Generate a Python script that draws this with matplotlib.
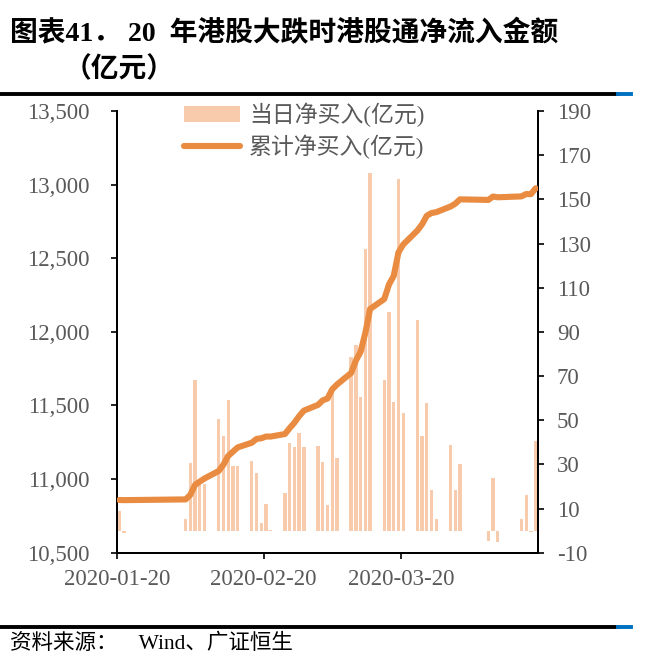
import matplotlib
matplotlib.use("Agg")
import matplotlib.pyplot as plt
from matplotlib.lines import Line2D
from matplotlib.patches import Patch
import pandas as pd

# 港股通交易日
dates = ["2020-01-20", "2020-01-21",
         "2020-02-03", "2020-02-04", "2020-02-05", "2020-02-06", "2020-02-07",
         "2020-02-10", "2020-02-11", "2020-02-12", "2020-02-13", "2020-02-14",
         "2020-02-17", "2020-02-18", "2020-02-19", "2020-02-20", "2020-02-21",
         "2020-02-24", "2020-02-25", "2020-02-26", "2020-02-27", "2020-02-28",
         "2020-03-02", "2020-03-03", "2020-03-04", "2020-03-05", "2020-03-06",
         "2020-03-09", "2020-03-10", "2020-03-11", "2020-03-12", "2020-03-13",
         "2020-03-16", "2020-03-17", "2020-03-18", "2020-03-19", "2020-03-20",
         "2020-03-23", "2020-03-24", "2020-03-25", "2020-03-26", "2020-03-27",
         "2020-03-30", "2020-03-31", "2020-04-01",
         "2020-04-07", "2020-04-08", "2020-04-09",
         "2020-04-14", "2020-04-15", "2020-04-16", "2020-04-17"]

# 当日净买入(亿元) - 右轴
daily = [8.7, -1.0,
         5.3, 30.6, 68.3, 22.0, 21.0,
         50.5, 43.0, 59.0, 29.4, 29.4,
         31.7, 26.0, 3.5, 12.0, 0.4,
         17.0, 39.7, 37.7, 44.0, 38.0,
         38.5, 31.0, 11.6, 63.0, 32.9,
         78.4, 83.9, 60.5, 127.5, 162.0,
         68.3, 99.0, 58.2, 159.3, 53.2,
         95.3, 43.0, 57.6, 18.6, 5.3,
         38.9, 18.6, 30.3,
         -4.5, 23.7, -5.0,
         5.3, 16.0, -0.8, 40.4]

# 累计净买入(亿元) - 左轴
cumulative = [10858, 10857,
              10862, 10893, 10961, 10983, 11004,
              11055, 11098, 11157, 11186, 11215,
              11247, 11273, 11277, 11289, 11289,
              11306, 11346, 11383, 11427, 11465,
              11504, 11535, 11547, 11610, 11642,
              11721, 11805, 11865, 11993, 12155,
              12223, 12322, 12380, 12540, 12593,
              12688, 12731, 12789, 12807, 12813,
              12851, 12870, 12900,
              12896, 12919, 12914,
              12920, 12936, 12935, 12975]

left_ticks = [10500, 11000, 11500, 12000, 12500, 13000, 13500]
right_ticks = [-10, 10, 30, 50, 70, 90, 110, 130, 150, 170, 190]
x_ticks = ["2020-01-20", "2020-02-20", "2020-03-20"]

bar_color = "#F8CBAD"
line_color = "#E98B41"
gray = "#595959"
serif_cjk = ["Liberation Serif", "Noto Sans CJK SC"]

W, H = 654, 667
fig = plt.figure(figsize=(W / 100, H / 100), dpi=100)

# 绘图区
x0, x1, y_top, y_bot = 117, 538, 111, 552.7
ax = fig.add_axes([x0 / W, 1 - y_bot / H, (x1 - x0) / W, (y_bot - y_top) / H])
ax_line = ax.twinx()

t = pd.to_datetime(dates) + pd.Timedelta(hours=12)
ax.bar(t, daily, width=0.7, color=bar_color, zorder=2)
ax_line.plot(t, cumulative, color=line_color, lw=4.4, solid_capstyle="round",
             solid_joinstyle="round", zorder=3)

ax.set_xlim(pd.Timestamp("2020-01-20"), pd.Timestamp("2020-04-18"))
ax.set_ylim(-10, 190)
ax_line.set_ylim(10500, 13500)

# 柱子对应右轴, 折线对应左轴
ax.yaxis.tick_right()
ax_line.yaxis.tick_left()
ax.set_yticks(right_ticks)
ax.set_yticklabels([str(v) for v in right_ticks])
ax_line.set_yticks(left_ticks)
ax_line.set_yticklabels([f"{v:,}" for v in left_ticks])
ax.set_xticks(pd.to_datetime(x_ticks))
ax.set_xticklabels(x_ticks)

for a in (ax, ax_line):
    a.spines["top"].set_visible(False)
    for s in ("left", "right", "bottom"):
        a.spines[s].set_linewidth(1.4)
        a.spines[s].set_color("black")
    for lab in a.get_xticklabels() + a.get_yticklabels():
        lab.set_fontfamily("Liberation Serif")
        lab.set_fontsize(16.5)
        lab.set_color(gray)

ax.tick_params(axis="y", direction="out", length=4.5, width=1.2, pad=9)
ax_line.tick_params(axis="y", direction="out", length=4.5, width=1.2, pad=15)
ax.tick_params(axis="x", direction="out", length=4.5, width=1.2, pad=7)

# 图例
handles = [Patch(facecolor=bar_color, edgecolor="none"),
           Line2D([0], [0], color=line_color, lw=4.4, solid_capstyle="round")]
labels = ["当日净买入(亿元)", "累计净买入(亿元)"]
leg = fig.legend(handles, labels, loc="upper left",
                 bbox_to_anchor=(184 / W, 1 - 103 / H), frameon=False,
                 prop={"family": serif_cjk, "size": 16.5},
                 handlelength=2.45, handletextpad=0.4, labelspacing=0.32,
                 borderaxespad=0, borderpad=0)
for txt in leg.get_texts():
    txt.set_color(gray)

# 标题
fig.text(10 / W, 1 - 33 / H, "图表41． 20  年港股大跌时港股通净流入金额",
         family=serif_cjk, fontsize=20, fontweight="bold", va="center", ha="left")
fig.text(64 / W, 1 - 70 / H, "（亿元）",
         family=serif_cjk, fontsize=20, fontweight="bold", va="center", ha="left")

# 上下分隔线
for yy in (94, 627):
    fig.add_artist(Line2D([0, 618 / W], [1 - yy / H] * 2, color="black", lw=2.8))
    fig.add_artist(Line2D([618 / W, 631 / W], [1 - yy / H] * 2, color="#0070C0", lw=2.8))

fig.text(10 / W, 1 - 644 / H, "资料来源：    Wind、广证恒生",
         family=serif_cjk, fontsize=15.5, va="center", ha="left")

fig.savefig("out.png", dpi=100)
